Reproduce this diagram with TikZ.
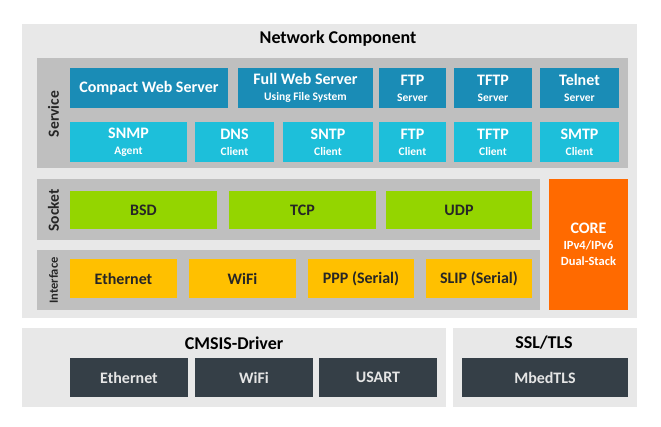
\documentclass[tikz,border=0pt]{standalone}
\usepackage{fontspec}
\setmainfont{Carlito}
\usetikzlibrary{positioning}

\definecolor{panelgray}{HTML}{E8E8E8}
\definecolor{layergray}{HTML}{BFBFBF}
\definecolor{srvblue}{HTML}{1A8CB6}
\definecolor{cliblue}{HTML}{1DBFDA}
\definecolor{sockgreen}{HTML}{94D500}
\definecolor{ifyellow}{HTML}{FFC000}
\definecolor{coreorange}{HTML}{FF6A00}
\definecolor{drvdark}{HTML}{353F47}
\definecolor{inktext}{HTML}{262626}

\newcommand{\subline}[1]{{\fontsize{11.5}{13}\selectfont #1}}

\tikzset{
  blk/.style={rectangle, inner sep=0pt, align=center,
    font=\bfseries\fontsize{16}{17}\selectfont},
  panel/.style={blk, fill=panelgray},
  layer/.style={blk, fill=layergray},
  sidelbl/.style={rotate=90, inner sep=0pt, text=inktext,
    font=\bfseries\fontsize{15.5}{17}\selectfont},
  title/.style={inner sep=0pt, text=black,
    font=\bfseries\fontsize{18}{20}\selectfont},
  srvbox/.style={blk, fill=srvblue, text=white, minimum height=40},
  clibox/.style={blk, fill=cliblue, text=white, minimum height=40},
  sockbox/.style={blk, fill=sockgreen, text=inktext, minimum height=38},
  ifbox/.style={blk, fill=ifyellow, text=inktext, minimum height=39},
  drvbox/.style={blk, fill=drvdark, text=white!90!black, minimum height=39},
}

\begin{document}
\begin{tikzpicture}[x=1pt, y=-1pt]
  \useasboundingbox[fill=white] (0,0) rectangle (661,426);

  % network component
  \node[panel, minimum width=615, minimum height=294] (net) at (329.5,171) {};
  \node[title] (nettitle) at (338,39) {Network Component};

  % service layer
  \node[layer, minimum width=591, minimum height=110] (svc) at (332.5,113) {};
  \node[sidelbl] (svclbl) at (53.5,114) {Service};
  \node[srvbox, minimum width=158] (cws) at (149,88) {Compact Web Server};
  \node[srvbox, minimum width=135] (fws) at (305.5,88) {Full Web Server\\[-1pt]\subline{Using File System}};
  \node[srvbox, minimum width=67] (ftps) at (412.5,88) {FTP\\[-1pt]\subline{Server}};
  \node[srvbox, minimum width=78] (tftps) at (493,88) {TFTP\\[-1pt]\subline{Server}};
  \node[srvbox, minimum width=79] (telnet) at (579.5,88) {Telnet\\[-1pt]\subline{Server}};
  \node[clibox, minimum width=117] (snmp) at (128.5,142) {SNMP\\[-1pt]\subline{Agent}};
  \node[clibox, minimum width=79] (dns) at (234.5,142) {DNS\\[-1pt]\subline{Client}};
  \node[clibox, minimum width=90] (sntp) at (328,142) {SNTP\\[-1pt]\subline{Client}};
  \node[clibox, minimum width=67] (ftpc) at (412.5,142) {FTP\\[-1pt]\subline{Client}};
  \node[clibox, minimum width=78] (tftpc) at (493,142) {TFTP\\[-1pt]\subline{Client}};
  \node[clibox, minimum width=79] (smtp) at (579.5,142) {SMTP\\[-1pt]\subline{Client}};

  % socket layer
  \node[layer, minimum width=503, minimum height=61] (sock) at (288.5,209.5) {};
  \node[sidelbl] (socklbl) at (53.5,210.5) {Socket};
  \node[sockbox, minimum width=147] (bsd) at (143.5,210) {BSD};
  \node[sockbox, minimum width=147] (tcp) at (302.5,210) {TCP};
  \node[sockbox, minimum width=146] (udp) at (459,210) {UDP};

  % interface layer
  \node[layer, minimum width=503, minimum height=60] (iface) at (288.5,280) {};
  \node[sidelbl, font=\bfseries\fontsize{12.5}{14}\selectfont] (iflbl) at (53.5,280.5) {Interface};
  \node[ifbox, minimum width=107] (eth) at (123.5,278.5) {Ethernet};
  \node[ifbox, minimum width=107] (wifi) at (242.5,278.5) {WiFi};
  \node[ifbox, minimum width=106] (ppp) at (361,278.5) {PPP (Serial)};
  \node[ifbox, minimum width=106] (slip) at (479,278.5) {SLIP (Serial)};

  % core
  \node[blk, fill=coreorange, text=white, minimum width=79, minimum height=131] (core) at (588.5,244.5)
    {CORE\\[-1pt]{\fontsize{12.5}{15}\selectfont IPv4/IPv6}\\[-1pt]{\fontsize{12.5}{15}\selectfont Dual-Stack}};

  % drivers
  \node[panel, minimum width=424, minimum height=79] (cmsis) at (234,367.5) {};
  \node[title] (cmsistitle) at (234,343) {CMSIS-Driver};
  \node[drvbox, minimum width=118] (drveth) at (129,377.5) {Ethernet};
  \node[drvbox, minimum width=118] (drvwifi) at (254,377.5) {WiFi};
  \node[drvbox, minimum width=118] (usart) at (378,377.5) {USART};

  % ssl
  \node[panel, minimum width=184, minimum height=79] (ssl) at (545,367.5) {};
  \node[title] (ssltitle) at (544,343) {SSL/TLS};
  \node[drvbox, minimum width=166] (mbed) at (545,377.5) {MbedTLS};
\end{tikzpicture}
\end{document}
